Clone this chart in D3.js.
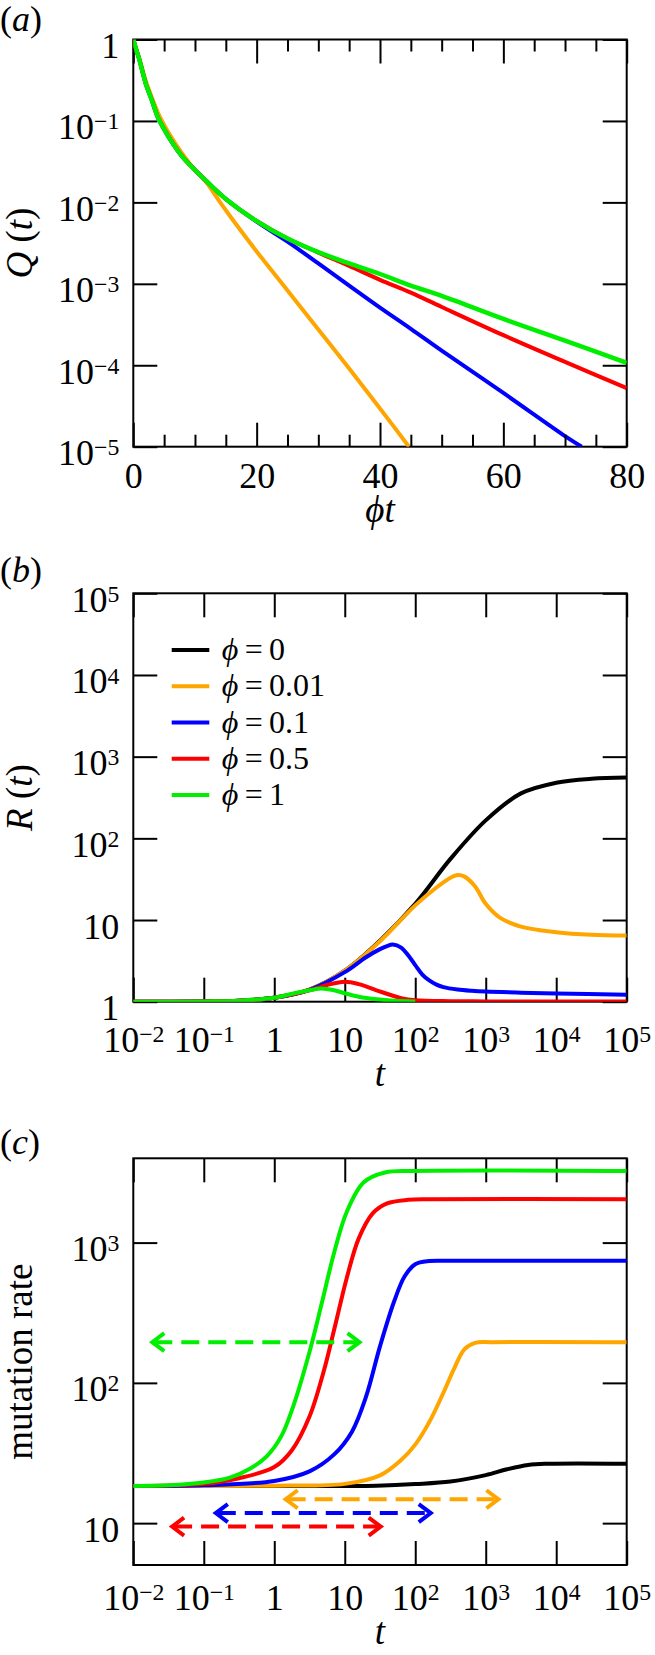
<!DOCTYPE html>
<html>
<head>
<meta charset="UTF-8">
<title>Q(t), R(t) and mutation rate</title>
<script src="https://d3js.org/d3.v7.min.js"></script>
<style>
  body { margin: 0; background: #fff; }
  svg text { font-family: 'Liberation Serif', 'Times New Roman', 'DejaVu Serif', serif; }
</style>
</head>
<body>
<svg id="fig" width="655" height="1655"></svg>
<script>

// ---- panel (a): Q(t) against phi*t
var aGreenX  = [0, 0.5, 1, 2, 3, 4, 5, 6, 8, 10, 12, 15, 20, 25, 30, 35, 40, 45, 50, 60, 70, 80];
var aGreenQ  = [1, 0.74, 0.56, 0.29, 0.18, 0.11, 0.079, 0.059, 0.036, 0.025, 0.0178, 0.011, 0.0059, 0.0036, 0.00245, 0.00178, 0.00132, 0.00095, 0.00071, 0.00037, 0.0002, 0.000107];
var aRedX    = [0, 0.5, 1, 2, 3, 4, 5, 6, 8, 10, 12, 15, 20, 25, 30, 35, 40, 45, 50, 60, 70, 80];
var aRedQ    = [1, 0.74, 0.56, 0.29, 0.18, 0.11, 0.079, 0.059, 0.036, 0.025, 0.0178, 0.011, 0.0059, 0.0036, 0.00242, 0.00166, 0.00112, 0.00078, 0.00052, 0.000234, 0.00011, 0.0000525];
var aBlueX   = [0, 0.5, 1, 2, 3, 4, 5, 6, 8, 10, 12, 15, 20, 25, 30, 35, 40, 45, 50, 60, 70, 72.7];
var aBlueQ   = [1, 0.74, 0.56, 0.29, 0.18, 0.11, 0.079, 0.059, 0.036, 0.025, 0.0178, 0.011, 0.0058, 0.0033, 0.00178, 0.00095, 0.00051, 0.00028, 0.000151, 0.0000457, 0.0000135, 0.00001];
var aOrangeX = [0, 0.5, 1, 2, 3, 4, 5, 6, 8, 10, 11, 12, 14, 16, 20, 25, 30, 35, 40, 44.7];
var aOrangeQ = [1, 0.76, 0.575, 0.316, 0.195, 0.126, 0.089, 0.066, 0.039, 0.025, 0.0209, 0.017, 0.0102, 0.0063, 0.0025, 0.00083, 0.000275, 0.000091, 0.0000295, 0.00001];
var aXTicks = [0, 20, 40, 60, 80];
var aXMinor = [5, 10, 15, 25, 30, 35, 45, 50, 55, 65, 70, 75];
var aYTicks = [1e-5, 1e-4, 1e-3, 1e-2, 1e-1, 1];

// ---- panel (b): R(t) against t
var bBlackT  = [0.01, 0.1, 0.316, 1, 3.16, 10, 31.6, 100, 316, 1000, 3162, 10000, 31623, 100000];
var bBlackR  = [1, 1.007, 1.028, 1.12, 1.41, 2.4, 5.6, 15.8, 56, 166, 355, 479, 537, 556];
var bOrangeT = [0.01, 0.1, 0.316, 1, 3.16, 10, 31.6, 100, 200, 316, 398, 501, 708, 1000, 1585, 3162, 10000, 31623, 100000];
var bOrangeR = [1, 1.007, 1.028, 1.12, 1.41, 2.4, 5.5, 15.1, 25, 33, 35.5, 34, 25.7, 15.8, 10.7, 8.3, 7.1, 6.6, 6.45];
var bBlueT   = [0.01, 0.1, 0.316, 1, 3.16, 10, 20, 31.6, 39.8, 47.9, 63.1, 79.4, 100, 126, 158, 200, 251, 398, 631, 1000, 3162, 10000, 100000];
var bBlueR   = [1, 1.007, 1.028, 1.12, 1.4, 2.3, 3.5, 4.4, 4.8, 5.0, 4.6, 3.7, 2.8, 2.15, 1.82, 1.62, 1.51, 1.41, 1.36, 1.33, 1.29, 1.26, 1.22];
var bRedT    = [0.01, 0.1, 0.316, 1, 3.16, 5.62, 10, 15.8, 28.2, 63.1, 100, 316, 1000, 100000];
var bRedR    = [1, 1.007, 1.028, 1.12, 1.38, 1.6, 1.75, 1.64, 1.38, 1.107, 1.042, 1.014, 1.009, 1.006];
var bGreenT  = [0.01, 0.1, 0.316, 1, 2, 3.16, 4.68, 7.08, 10, 15.8, 28.2, 50.1, 100];
var bGreenR  = [1, 1.007, 1.028, 1.12, 1.28, 1.38, 1.45, 1.38, 1.27, 1.15, 1.07, 1.028, 1.009];
var tTicks = [1e-2, 1e-1, 1, 10, 1e2, 1e3, 1e4, 1e5];
var bYTicks = [1, 10, 1e2, 1e3, 1e4, 1e5];
var legendLabels = ["0", "0.01", "0.1", "0.5", "1"];

// ---- panel (c): mutation rate against t
var cBlackT  = [0.01, 1, 10, 28.2, 100, 316, 1000, 2000, 3981, 7943, 100000];
var cBlackM  = [18.4, 18.4, 18.4, 18.5, 19, 19.8, 22, 24.2, 26, 26.5, 26.5];
var cOrangeT = [0.01, 1, 10, 31.6, 63.1, 100, 158, 251, 355, 501, 708, 1259, 100000];
var cOrangeM = [18.4, 18.5, 19.05, 21.9, 28.2, 36.3, 52.5, 85, 126, 174, 193, 195, 195];
var cBlueT   = [0.01, 0.1, 1, 3.16, 7.08, 12.6, 20, 31.6, 50.1, 70.8, 100, 158, 316, 100000];
var cBlueM   = [18.4, 18.6, 20, 23.4, 30.9, 44.7, 79.4, 182, 380, 575, 700, 738, 741, 741];
var cRedT    = [0.01, 0.1, 0.316, 1, 1.78, 3.16, 5.01, 7.08, 10.7, 15.8, 25.1, 39.8, 79.4, 158, 100000];
var cRedM    = [18.4, 19.05, 20.9, 25.1, 33.1, 57.5, 120, 240, 562, 1072, 1622, 1905, 2018, 2040, 2040];
var cGreenT  = [0.01, 0.0316, 0.1, 0.234, 0.457, 0.794, 1.26, 1.82, 3.16, 4.68, 7.08, 10.7, 18.6, 37.2, 100, 100000];
var cGreenM  = [18.4, 18.6, 19.5, 21.1, 24.5, 30.2, 41.7, 66, 166, 363, 851, 1660, 2690, 3160, 3240, 3240];
var cYTicks = [10, 1e2, 1e3];
// dashed double arrows: level, left end, right end
var arrowY    = [195, 14.8, 11.8, 9.45];
var arrowFrom = [0.0186, 1.45, 0.148, 0.0355];
var arrowTo   = [16.2, 1514, 166, 32.4];

var black = "#000000", orange = "#ffa500", blue = "#0000ff", red = "#ff0000", green = "#00ee00";
var serif = "'Liberation Serif', 'Times New Roman', 'DejaVu Serif', serif";

var svg = d3.select("#fig");
svg.append("rect").attr("width", 655).attr("height", 1655).attr("fill", "#fff");

var xLeft = 133.3, xRight = 626.7;

function logLabels(sel) {
    sel.each(function (d) {
        var e = Math.round(Math.log10(d)), t = d3.select(this);
        t.text(null);
        if (e === 0) { t.text("1"); return; }
        if (e === 1) { t.text("10"); return; }
        t.append("tspan").text("10");
        t.append("tspan").attr("dy", "-0.42em").attr("font-size", "0.66em")
            .text(e < 0 ? "\u2212" + (-e) : "" + e);
    });
}

function styleAxis(g) {
    g.attr("font-size", 36).attr("font-family", serif);
    g.select(".domain").remove();
    g.selectAll(".tick line").attr("stroke", "#000").attr("stroke-width", 2);
}

// frame, ticks on all four sides, labels bottom and left
function panel(top, bottom, xs, ys, xTicks, yTicks, xLog, xPad, name) {
    var g = svg.append("g");
    var gx = g.append("g").attr("transform", "translate(0," + bottom + ")")
        .call(d3.axisBottom(xs).tickValues(xTicks).tickSize(-24).tickSizeOuter(0).tickPadding(xPad));
    styleAxis(gx);
    if (xLog) gx.selectAll("text").call(logLabels);
    g.append("g").attr("transform", "translate(0," + top + ")")
        .call(d3.axisTop(xs).tickValues(xTicks).tickSize(-24).tickSizeOuter(0).tickFormat(""))
        .call(styleAxis);
    var gy = g.append("g").attr("transform", "translate(" + xLeft + ",0)")
        .call(d3.axisLeft(ys).tickValues(yTicks).tickSize(-24).tickSizeOuter(0).tickPadding(14));
    styleAxis(gy);
    gy.selectAll("text").attr("dy", "0.5em").call(logLabels);
    g.append("g").attr("transform", "translate(" + xRight + ",0)")
        .call(d3.axisRight(ys).tickValues(yTicks).tickSize(-24).tickSizeOuter(0).tickFormat(""))
        .call(styleAxis);
    g.append("rect").attr("x", xLeft).attr("y", top).attr("width", xRight - xLeft).attr("height", bottom - top)
        .attr("fill", "none").attr("stroke", "#000").attr("stroke-width", 2);

    svg.append("clipPath").attr("id", "clip-" + name).append("rect")
        .attr("x", xLeft).attr("y", top).attr("width", xRight - xLeft).attr("height", bottom - top);
    return svg.append("g").attr("clip-path", "url(#clip-" + name + ")");
}

function curve(g, xs, ys, xArr, yArr, color, w) {
    var line = d3.line().x(function (d) { return xs(d[0]); }).y(function (d) { return ys(d[1]); })
        .curve(d3.curveCatmullRom.alpha(0.5));
    g.append("path").datum(d3.zip(xArr, yArr)).attr("d", line)
        .attr("fill", "none").attr("stroke", color).attr("stroke-width", w || 4)
        .attr("stroke-linejoin", "round").attr("stroke-linecap", "butt");
}

function label(x, y, parts, size, anchor, rotate) {
    var t = svg.append("text").attr("font-size", size).attr("font-family", serif)
        .attr("text-anchor", anchor || "start");
    if (rotate) t.attr("transform", "translate(" + x + "," + y + ") rotate(-90)");
    else t.attr("x", x).attr("y", y);
    parts.forEach(function (p) {
        t.append("tspan").attr("font-style", p[1] ? "italic" : "normal").text(p[0]);
    });
    return t;
}

// ---------- (a)
var aTop = 39.5, aBottom = 446.7;
var xa = d3.scaleLinear().domain([0, 80]).range([xLeft, xRight]);
var ya = d3.scaleLog().domain([1e-5, 1]).range([aBottom, aTop]);
var ga = panel(aTop, aBottom, xa, ya, aXTicks, aYTicks, false, 16, "a");
svg.append("g").attr("transform", "translate(0," + aBottom + ")")
    .call(d3.axisBottom(xa).tickValues(aXMinor).tickSize(-12).tickSizeOuter(0).tickFormat("")).call(styleAxis);
svg.append("g").attr("transform", "translate(0," + aTop + ")")
    .call(d3.axisTop(xa).tickValues(aXMinor).tickSize(-12).tickSizeOuter(0).tickFormat("")).call(styleAxis);
curve(ga, xa, ya, aOrangeX, aOrangeQ, orange);
curve(ga, xa, ya, aBlueX, aBlueQ, blue);
curve(ga, xa, ya, aRedX, aRedQ, red);
curve(ga, xa, ya, aGreenX, aGreenQ, green, 4.5);

label(0, 31, [["(", 0], ["a", 1], [")", 0]], 36);
label(32, (aTop + aBottom) / 2, [["Q", 1], [" (", 0], ["t", 1], [")", 0]], 37, "middle", true);
label((xLeft + xRight) / 2, aBottom + 75, [["\u03d5t", 1]], 37, "middle");

// ---------- (b)
var bTop = 593.3, bBottom = 1001.7;
var xb = d3.scaleLog().domain([1e-2, 1e5]).range([xLeft, xRight]);
var yb = d3.scaleLog().domain([1, 1e5]).range([bBottom, bTop]);
var gb = panel(bTop, bBottom, xb, yb, tTicks, bYTicks, true, 25, "b");
curve(gb, xb, yb, bBlackT, bBlackR, black);
curve(gb, xb, yb, bOrangeT, bOrangeR, orange);
curve(gb, xb, yb, bBlueT, bBlueR, blue);
curve(gb, xb, yb, bRedT, bRedR, red);
curve(gb, xb, yb, bGreenT, bGreenR, green);

var legColors = [black, orange, blue, red, green];
var legY = d3.scaleLinear().domain([0, 4]).range([650, 795]);
legendLabels.forEach(function (s, i) {
    svg.append("line").attr("x1", 171.7).attr("x2", 209.3).attr("y1", legY(i)).attr("y2", legY(i))
        .attr("stroke", legColors[i]).attr("stroke-width", 4);
    label(221.7, legY(i) + 10, [["\u03d5", 1], ["\u2009=\u2009" + s, 0]], 32);
});

label(0, 582, [["(", 0], ["b", 1], [")", 0]], 36);
label(32, (bTop + bBottom) / 2, [["R", 1], [" (", 0], ["t", 1], [")", 0]], 37, "middle", true);
label((xLeft + xRight) / 2, bBottom + 84, [["t", 1]], 37, "middle");

// ---------- (c)
var cTop = 1158.3, cBottom = 1565;
var xc = d3.scaleLog().domain([1e-2, 1e5]).range([xLeft, xRight]);
var yc = d3.scaleLog().domain([5.03, 3990]).range([cBottom, cTop]);
var gc = panel(cTop, cBottom, xc, yc, tTicks, cYTicks, true, 19, "c");
curve(gc, xc, yc, cBlackT, cBlackM, black);
curve(gc, xc, yc, cOrangeT, cOrangeM, orange);
curve(gc, xc, yc, cBlueT, cBlueM, blue);
curve(gc, xc, yc, cRedT, cRedM, red);
curve(gc, xc, yc, cGreenT, cGreenM, green);

var arrowColors = [green, orange, blue, red];
arrowY.forEach(function (v, i) {
    var y = yc(v), l = xc(arrowFrom[i]), r = xc(arrowTo[i]);
    var ag = svg.append("g").attr("fill", "none").attr("stroke", arrowColors[i]).attr("stroke-width", 4);
    ag.append("line").attr("x1", l + 2).attr("x2", r - 2).attr("y1", y).attr("y2", y)
        .attr("stroke-dasharray", "18,9");
    ag.append("path").attr("d", "M" + (l + 12) + "," + (y - 9) + "L" + l + "," + y + "L" + (l + 12) + "," + (y + 9));
    ag.append("path").attr("d", "M" + (r - 12) + "," + (y - 9) + "L" + r + "," + y + "L" + (r - 12) + "," + (y + 9));
});

label(32, (cTop + cBottom) / 2, [["mutation rate", 0]], 37, "middle", true);
label(0, 1154, [["(", 0], ["c", 1], [")", 0]], 36);
label((xLeft + xRight) / 2, cBottom + 79, [["t", 1]], 37, "middle");

</script>
</body>
</html>
